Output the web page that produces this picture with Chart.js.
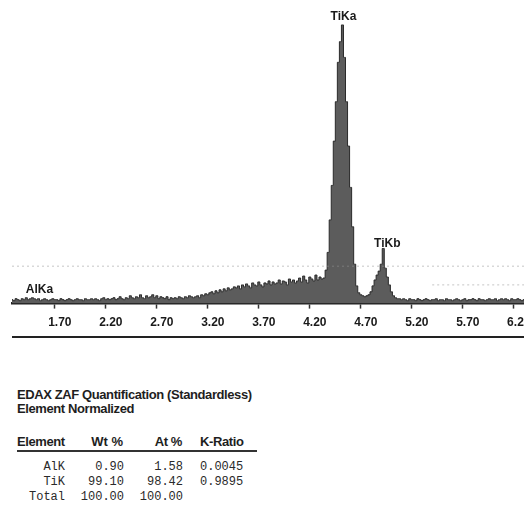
<!DOCTYPE html>
<html><head><meta charset="utf-8">
<script src="https://cdn.jsdelivr.net/npm/chart.js@4"></script>
<style>
html,body{margin:0;padding:0;background:#fff;}
body{position:relative;width:524px;height:505px;overflow:hidden;}
#wrap{position:absolute;left:0;top:0;width:524px;height:345px;overflow:hidden;}
.rule{position:absolute;left:12px;width:512px;height:2px;background:#222;}
.t{position:absolute;white-space:pre;font-family:"Liberation Sans",Arial,sans-serif;font-weight:bold;color:#1e1e1e;font-size:13px;line-height:14px;letter-spacing:-0.4px;}
.m{position:absolute;white-space:pre;font-family:"Liberation Mono",monospace;font-size:12px;line-height:14px;color:#2a2a2a;}
</style></head>
<body>
<div id="wrap"><canvas id="c" width="560" height="345"></canvas></div>
<div class="rule" style="top:336px;"></div>
<div id="table"></div>
<script>
// ---- spectrum data (counts per 0.02 keV channel, starting at 1.28 keV) ----
const channelStart = 1.28;
const channelWidth = 0.02;
const counts = [
 4,3,5,4,3,5,4,6,4,5,
 6,5,4,5,3,4,5,4,3,4,
 5,4,4,3,5,4,3,4,5,4,
 3,4,5,4,4,3,5,4,4,5,
 4,5,4,3,5,6,4,5,4,5,
 6,4,5,7,5,4,6,5,8,6,
 5,7,6,9,6,5,8,6,7,9,
 6,8,5,7,6,5,7,4,6,5,
 6,5,7,6,5,7,6,8,7,6,
 7,8,6,9,8,10,9,11,12,10,
 13,11,14,12,15,13,16,14,15,17,
 16,18,15,19,17,20,18,16,21,19,
 18,22,19,17,21,20,23,19,22,20,
 21,24,20,23,22,19,25,22,24,21,
 23,26,22,28,24,21,27,25,23,29,
 24,27,25,
 26,34,52,85,120,165,205,245,266,283,250,205,160,118,78,40,18,
 11,9,8,7,8,9,12,18,24,29,33,40,56,36,27,19,12,8,6,5,5,
 4,5,4,3,5,4,4,3,5,4,
 3,4,5,4,3,4,4,5,3,4,
 4,3,5,4,4,3,4,5,4,3,
 4,5,3,4,4,5,4,3,5,4,
 4,3,4,5,4,4,5,3,4,5,
 4,5,4,3,5,4,4,5,4,3,
 4
];
const tickValues = [1.70,2.20,2.70,3.20,3.70,4.20,4.70,5.20,5.70,6.20];
const tickLabels = ["1.70","2.20","2.70","3.20","3.70","4.20","4.70","5.20","5.70","6.20"];
const peakNames = ["AlKa","TiKa","TiKb"];
const peakEnergies = [1.49, 4.51, 4.93];
const peakLabelLevels = [14, 291, 61];
const ghostLevels = [38, 19];

// ---- quantification table ----
const elements = ["AlK","TiK","Total"];
const wtPct = ["0.90","99.10","100.00"];
const atPct = ["1.58","98.42","100.00"];
const kRatio = ["0.0045","0.9895",""];

const peakLabelPlugin = {
  id:'peakLabels',
  afterDraw(chart){
    const {ctx, scales:{x,y}, chartArea} = chart;
    ctx.save();
    // faint ghost lines from the scan
    ctx.strokeStyle = 'rgba(150,150,150,0.55)';
    ctx.lineWidth = 1;
    ctx.setLineDash([2,3]);
    ctx.beginPath();
    const g0 = y.getPixelForValue(ghostLevels[0]);
    ctx.moveTo(chartArea.left, g0); ctx.lineTo(chartArea.right, g0);
    const g1 = y.getPixelForValue(ghostLevels[1]);
    ctx.moveTo(x.getPixelForValue(5.40), g1); ctx.lineTo(chartArea.right, g1);
    ctx.stroke();
    ctx.setLineDash([]);
    // peak labels
    const dx = [6, 2, 3];
    ctx.fillStyle = '#1a1a1a';
    ctx.font = 'bold 12px "Liberation Sans", Arial, sans-serif';
    ctx.textAlign = 'center';
    ctx.textBaseline = 'middle';
    peakNames.forEach((n,i)=>{
      ctx.fillText(n, x.getPixelForValue(peakEnergies[i]) + dx[i], y.getPixelForValue(peakLabelLevels[i]));
    });
    ctx.restore();
  }
};

new Chart(document.getElementById('c'), {
  type:'line',
  data:{datasets:[{
    data: counts.map((c,i)=>({x: channelStart + i*channelWidth, y: c})),
    stepped:'middle',
    fill:'origin',
    backgroundColor:'#5c5c5c',
    borderColor:'#2a2a2a',
    borderWidth:1,
    pointRadius:0
  }]},
  options:{
    responsive:false,
    animation:false,
    layout:{padding:{left:12,right:36,top:20,bottom:8}},
    plugins:{legend:{display:false}, tooltip:{enabled:false}},
    scales:{
      x:{
        type:'linear', min:1.28, max:6.30,
        afterBuildTicks:a=>{ a.ticks = tickValues.map(v=>({value:v})); },
        ticks:{
          callback:(v,i)=>tickLabels[i],
          labelOffset:5, padding:7, color:'#1a1a1a',
          font:{family:'"Liberation Sans", Arial, sans-serif', weight:'bold', size:12},
          maxRotation:0, autoSkip:false
        },
        grid:{display:true, drawOnChartArea:false, drawTicks:true, tickLength:5, tickColor:'#333', tickWidth:1.5},
        border:{display:true, color:'#222', width:2.5}
      },
      y:{display:false, min:0, max:288}
    }
  },
  plugins:[peakLabelPlugin]
});

// build text block
const T = document.getElementById('table');
function add(cls, text, css){ const d=document.createElement('div'); d.className=cls; d.textContent=text; d.style.cssText=css; T.appendChild(d); return d; }
add('t','EDAX ZAF Quantification (Standardless)','left:17px;top:388px;');
add('t','Element Normalized','left:17px;top:402px;');
add('t','Element','left:17px;top:435px;');
add('t','Wt %','right:401px;top:435px;letter-spacing:0;');
add('t','At %','right:342px;top:435px;');
add('t','K-Ratio','left:200px;top:435px;');
add('rule','', 'left:17px;width:240px;top:450px;height:2px;position:absolute;background:#333;');
elements.forEach((e,i)=>{
  const top = 460 + i*15;
  add('m', e, `right:459px;top:${top}px;`);
  add('m', wtPct[i], `right:400px;top:${top}px;`);
  add('m', atPct[i], `right:341px;top:${top}px;`);
  if (kRatio[i]) add('m', kRatio[i], `left:200px;top:${top}px;`);
});
</script>
</body></html>
